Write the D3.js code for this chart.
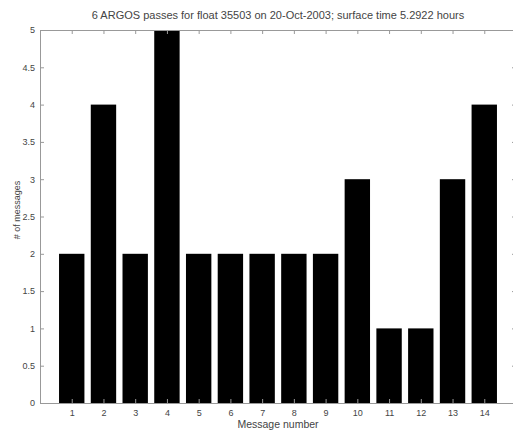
<!DOCTYPE html>
<html>
<head>
<meta charset="UTF-8" />
<title>ARGOS passes</title>
<script src="https://d3js.org/d3.v7.min.js"></script>
<style>
body { margin: 0; background: #fff; }
text { font-family: "Liberation Sans", Arial, sans-serif; fill: #444; }
</style>
</head>
<body>
<div id="chart"></div>
<script>
var messages = [1, 2, 3, 4, 5, 6, 7, 8, 9, 10, 11, 12, 13, 14];
var counts = [2, 4, 2, 5, 2, 2, 2, 2, 2, 3, 1, 1, 3, 4];
var yTicks = [0, 0.5, 1, 1.5, 2, 2.5, 3, 3.5, 4, 4.5, 5];

var width = 513, height = 432;
var margin = {top: 30, right: -3, bottom: 29, left: 40};

var svg = d3.select('#chart').append('svg')
    .attr('width', width)
    .attr('height', height);

var x = d3.scaleLinear().domain([0, 15]).range([margin.left, width - margin.right]);
var y = d3.scaleLinear().domain([0, 5]).range([height - margin.bottom, margin.top]);

var barW = x(0.8) - x(0);

// bars
svg.selectAll('rect.bar')
    .data(messages)
  .enter().append('rect')
    .attr('class', 'bar')
    .attr('x', function(d) { return x(d) - barW / 2; })
    .attr('y', function(d, i) { return y(counts[i]); })
    .attr('width', barW)
    .attr('height', function(d, i) { return y(0) - y(counts[i]); })
    .attr('fill', '#000');

// axes (matlab style box, ticks inside)
var tk = 4;
svg.append('g')
    .attr('transform', 'translate(0,' + y(0) + ')')
    .call(d3.axisBottom(x).tickValues(messages).tickSizeInner(-tk).tickSizeOuter(0).tickPadding(7));
svg.append('g')
    .attr('transform', 'translate(0,' + y(5) + ')')
    .call(d3.axisTop(x).tickValues(messages).tickSizeInner(-tk).tickSizeOuter(0).tickFormat(''));
svg.append('g')
    .attr('transform', 'translate(' + x(0) + ',0)')
    .call(d3.axisLeft(y).tickValues(yTicks).tickSizeInner(-tk).tickSizeOuter(0).tickPadding(5).tickFormat(d3.format('')));
svg.append('g')
    .attr('transform', 'translate(' + x(15) + ',0)')
    .call(d3.axisRight(y).tickValues(yTicks).tickSizeInner(-tk).tickSizeOuter(0).tickFormat(''));

svg.selectAll('.domain, .tick line').attr('stroke', '#999');
svg.selectAll('.tick text').style('font-size', '9px').attr('fill', '#555');

// labels
svg.append('text')
    .attr('x', (x(0) + x(15)) / 2)
    .attr('y', 19)
    .attr('text-anchor', 'middle')
    .style('font-size', '11px')
    .text('6 ARGOS passes for float 35503 on 20-Oct-2003; surface time 5.2922 hours');

svg.append('text')
    .attr('x', (x(0) + x(15)) / 2)
    .attr('y', 428)
    .attr('text-anchor', 'middle')
    .style('font-size', '10.5px')
    .text('Message number');

svg.append('text')
    .attr('transform', 'translate(20,210) rotate(-90)')
    .attr('text-anchor', 'middle')
    .style('font-size', '9px')
    .text('# of messages');
</script>
</body>
</html>
